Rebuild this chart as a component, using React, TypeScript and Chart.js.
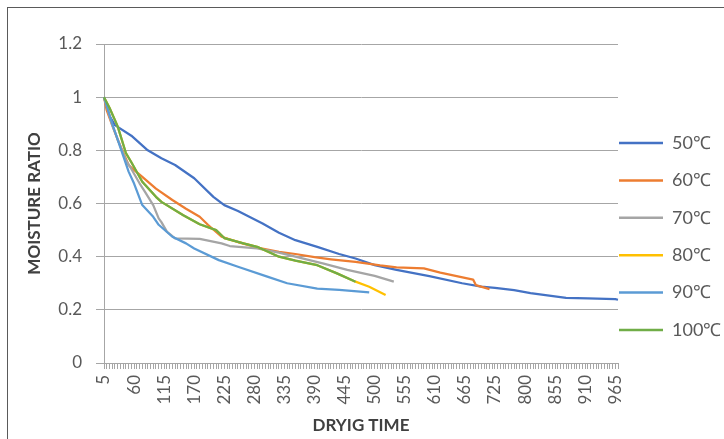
import React, { useEffect, useRef } from 'react';
import { Chart, registerables } from 'chart.js';

Chart.register(...registerables);

// ---- categories (drying time, minutes) ----
const timesRegularStart: number[] = [];
for (let t = 5; t <= 665; t += 5) timesRegularStart.push(t);
const timesIrregularMid: number[] = [670, 675, 680, 685, 690, 695, 700, 705, 710, 715, 725, 730, 735, 740, 745, 750, 760, 770, 780, 785, 790, 800];
const timesRegularEnd: number[] = [];
for (let t = 805; t <= 970; t += 5) timesRegularEnd.push(t);
const timeLabels: string[] = [...timesRegularStart, ...timesIrregularMid, ...timesRegularEnd].map(String);
const labelEvery = 11;

// ---- series: [time, moisture ratio] ----
const series50: [number, number][] = [[5, 1], [15, 0.93], [25, 0.895], [55, 0.855], [85, 0.8], [110, 0.77], [135, 0.745], [170, 0.695], [205, 0.625], [225, 0.594], [250, 0.572], [295, 0.525], [325, 0.49], [355, 0.462], [395, 0.437], [435, 0.41], [465, 0.393], [500, 0.368], [540, 0.35], [600, 0.327], [660, 0.3], [695, 0.287], [725, 0.283], [770, 0.274], [810, 0.263], [875, 0.245], [915, 0.243], [965, 0.24], [970, 0.238]];
const series60: [number, number][] = [[5, 1], [10, 0.95], [20, 0.895], [30, 0.84], [50, 0.745], [55, 0.735], [75, 0.7], [100, 0.656], [130, 0.613], [155, 0.58], [180, 0.55], [195, 0.52], [220, 0.475], [250, 0.455], [290, 0.432], [325, 0.418], [355, 0.41], [390, 0.398], [420, 0.39], [465, 0.38], [510, 0.367], [540, 0.36], [590, 0.356], [620, 0.34], [680, 0.314], [685, 0.293], [710, 0.278]];
const series70: [number, number][] = [[5, 1], [20, 0.895], [45, 0.763], [55, 0.73], [70, 0.676], [80, 0.644], [95, 0.594], [105, 0.544], [110, 0.53], [120, 0.494], [135, 0.469], [180, 0.467], [220, 0.45], [235, 0.44], [285, 0.431], [325, 0.415], [355, 0.4], [375, 0.39], [405, 0.375], [450, 0.35], [500, 0.328], [535, 0.306]];
const series80: [number, number][] = [[5, 1], [15, 0.96], [30, 0.89], [45, 0.79], [55, 0.755], [75, 0.682], [100, 0.625], [110, 0.606], [150, 0.556], [180, 0.522], [210, 0.5], [225, 0.47], [260, 0.45], [285, 0.437], [325, 0.4], [355, 0.385], [395, 0.368], [430, 0.338], [465, 0.306], [490, 0.287], [520, 0.256]];
const series90: [number, number][] = [[5, 1], [20, 0.9], [40, 0.78], [50, 0.72], [60, 0.675], [75, 0.594], [95, 0.55], [105, 0.52], [130, 0.475], [155, 0.45], [170, 0.431], [215, 0.387], [250, 0.362], [305, 0.324], [340, 0.3], [395, 0.28], [435, 0.275], [490, 0.266]];
const series100: [number, number][] = [[5, 1], [15, 0.96], [30, 0.89], [45, 0.79], [55, 0.755], [75, 0.682], [100, 0.625], [110, 0.606], [150, 0.556], [180, 0.522], [210, 0.5], [225, 0.47], [260, 0.45], [285, 0.437], [325, 0.4], [355, 0.385], [395, 0.368], [430, 0.338], [465, 0.306]];

const seriesNames = ['50\u2103', '60\u2103', '70\u2103', '80\u2103', '90\u2103', '100\u2103'];
const seriesColors = ['#4472C4', '#ED7D31', '#A5A5A5', '#FFC000', '#5B9BD5', '#70AD47'];
const seriesData = [series50, series60, series70, series80, series90, series100];

const FONT = 'Lato, "Open Sans", sans-serif';
const LEGEND_FONT = 18;
const LEGEND_PAD = 37.4 - LEGEND_FONT;

const legendPlace = {
  id: 'legendPlace',
  afterLayout(chart: any) {
    const lg = chart.legend;
    if (!lg) return;
    lg.left = chart.chartArea.right + 1 - LEGEND_PAD;
    lg.top = 135 - LEGEND_PAD - LEGEND_FONT / 2;
  },
};

export default function App() {
  const ref = useRef<HTMLCanvasElement | null>(null);

  useEffect(() => {
    if (!ref.current) return;
    const chart = new Chart(ref.current, {
      type: 'line',
      data: {
        labels: timeLabels,
        datasets: seriesData.map((s, k) => ({
          label: seriesNames[k],
          data: s.map(([t, v]) => ({ x: String(t), y: v })),
          borderColor: seriesColors[k],
          backgroundColor: seriesColors[k],
          borderWidth: 2.25,
          borderJoinStyle: 'round',
          pointRadius: 0,
          pointHoverRadius: 0,
          tension: 0,
          fill: false,
          order: 6 - k,
        })) as any,
      },
      options: {
        animation: false,
        responsive: false,
        devicePixelRatio: 1,
        layout: { padding: { top: 36, left: 0, right: 0, bottom: 0 } },
        font: { family: FONT },
        plugins: {
          tooltip: { enabled: false },
          legend: {
            position: 'right',
            align: 'start',
            maxWidth: 106,
            labels: {
              boxWidth: 44,
              boxHeight: 2.5,
              padding: LEGEND_PAD,
              color: '#595959',
              font: { size: LEGEND_FONT, family: FONT },
              generateLabels: (c: any) =>
                c.data.datasets.map((ds: any, i: number) => ({
                  text: ds.label,
                  fillStyle: ds.borderColor,
                  strokeStyle: ds.borderColor,
                  lineWidth: 0,
                  hidden: false,
                  datasetIndex: i,
                  fontColor: '#595959',
                })),
            },
          },
        },
        scales: {
          x: {
            type: 'category',
            offset: false,
            ticks: {
              autoSkip: false,
              maxRotation: 90,
              minRotation: 90,
              padding: 6,
              color: '#595959',
              font: { size: 17, family: FONT },
              callback: (_v: any, index: number) => (index % labelEvery === 0 ? timeLabels[index] : ''),
            },
            grid: { drawOnChartArea: false, color: '#A6A6A6', tickLength: 6 },
            border: { color: '#A6A6A6' },
            title: {
              display: true,
              text: 'DRYIG TIME',
              color: '#404040',
              font: { size: 17, weight: 'bold', family: FONT },
              padding: { top: 0, bottom: 3 },
            },
            afterFit: (s: any) => {
              s.height = 76;
            },
          },
          y: {
            min: 0,
            max: 1.2,
            ticks: {
              stepSize: 0.2,
              color: '#595959',
              font: { size: 17, family: FONT },
              padding: 14,
              callback: (v: any) => String(Number(Number(v).toFixed(1))),
            },
            grid: { color: '#A6A6A6', tickLength: 8 },
            border: { color: '#A6A6A6' },
            title: {
              display: true,
              text: 'MOISTURE RATIO',
              color: '#404040',
              font: { size: 17, weight: 'bold', family: FONT },
              padding: { top: 16, bottom: 0 },
            },
            afterFit: (s: any) => {
              s.width = 96;
            },
          },
        },
      } as any,
      plugins: [legendPlace],
    });
    return () => chart.destroy();
  }, []);

  return (
    <div
      style={{
        position: 'fixed',
        left: 7,
        top: 7,
        width: 717,
        height: 432,
        boxSizing: 'border-box',
        borderTop: '1px solid #5a5a5a',
        borderLeft: '1px solid #5a5a5a',
        background: '#fff',
      }}
    >
      <canvas ref={ref} width={716} height={431} style={{ display: 'block', width: 716, height: 431 }} />
    </div>
  );
}
